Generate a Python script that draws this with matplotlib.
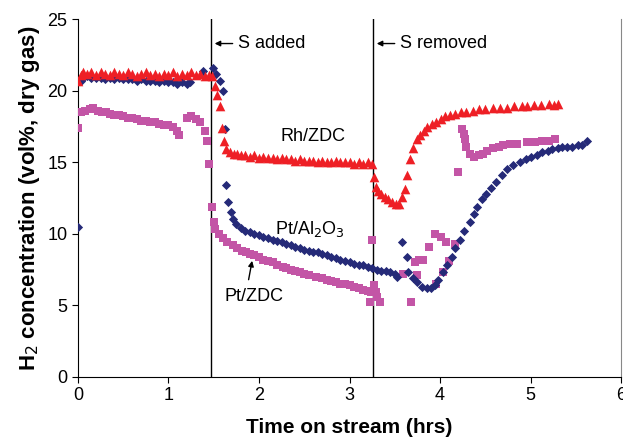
import matplotlib.pyplot as plt

plt.rcParams['font.family'] = ['Liberation Sans', 'DejaVu Sans']

# Rh/ZDC (red triangles)
rh_t = [0.00, 0.03, 0.06, 0.10, 0.15, 0.20, 0.25, 0.30, 0.35, 0.40, 0.45, 0.50, 0.55, 0.60,
        0.65, 0.70, 0.75, 0.80, 0.85, 0.90, 0.95, 1.00, 1.05, 1.10, 1.15, 1.20, 1.25, 1.30,
        1.35, 1.40, 1.45, 1.48, 1.51, 1.54, 1.57, 1.59, 1.61, 1.64, 1.68, 1.72, 1.76, 1.80,
        1.85, 1.90, 1.95, 2.00, 2.05, 2.10, 2.15, 2.20, 2.25, 2.30, 2.35, 2.40, 2.45, 2.50,
        2.55, 2.60, 2.65, 2.70, 2.75, 2.80, 2.85, 2.90, 2.95, 3.00, 3.05, 3.10, 3.15, 3.20,
        3.25, 3.27, 3.29, 3.32, 3.35, 3.39, 3.43, 3.47, 3.51, 3.55, 3.58, 3.61, 3.64, 3.67,
        3.70, 3.74, 3.78, 3.82, 3.86, 3.91, 3.96, 4.01, 4.06, 4.11, 4.17, 4.23, 4.29, 4.36,
        4.43, 4.50, 4.58, 4.66, 4.74, 4.82, 4.90, 4.96, 5.04, 5.12, 5.20, 5.26, 5.30]
rh_v = [20.7, 21.1, 21.3, 21.2, 21.3, 21.1, 21.3, 21.2, 21.1, 21.3, 21.2, 21.1, 21.3, 21.2,
        21.0, 21.2, 21.3, 21.1, 21.2, 21.0, 21.2, 21.1, 21.3, 21.0, 21.2, 21.1, 21.3, 21.1,
        21.2, 21.0, 21.1, 21.0, 20.3, 19.7, 18.9, 17.4, 16.5, 15.9, 15.7, 15.6, 15.6, 15.5,
        15.5, 15.4, 15.5, 15.3, 15.4, 15.3, 15.3, 15.2, 15.3, 15.2, 15.2, 15.1, 15.2, 15.1,
        15.1, 15.1, 15.0, 15.1, 15.0, 15.0, 15.1, 15.0, 15.0, 15.0, 14.9, 15.0, 14.9, 15.0,
        14.9, 14.0, 13.3, 13.0, 12.8, 12.6, 12.4, 12.2, 12.1, 12.1, 12.6, 13.1, 14.1, 15.2,
        16.0, 16.6, 16.9, 17.2, 17.5, 17.7, 17.8, 18.0, 18.2, 18.3, 18.4, 18.5, 18.5, 18.6,
        18.7, 18.7, 18.8, 18.8, 18.8, 18.9, 18.9, 18.9, 19.0, 19.0, 19.1, 19.0, 19.1]

# Pt/Al2O3 (navy diamonds)
al_t = [0.00, 0.03, 0.06, 0.10, 0.15, 0.20, 0.25, 0.30, 0.35, 0.40, 0.45, 0.50, 0.55, 0.60,
        0.65, 0.70, 0.75, 0.80, 0.85, 0.90, 0.95, 1.00, 1.05, 1.10, 1.15, 1.20, 1.24, 1.38,
        1.49, 1.53, 1.57, 1.60, 1.62, 1.64, 1.66, 1.69, 1.71, 1.75, 1.80, 1.85, 1.90, 1.95,
        2.00, 2.05, 2.10, 2.15, 2.20, 2.25, 2.30, 2.35, 2.40, 2.45, 2.50, 2.55, 2.60, 2.65,
        2.70, 2.75, 2.80, 2.85, 2.90, 2.95, 3.00, 3.05, 3.10, 3.15, 3.20, 3.25, 3.30, 3.35,
        3.40, 3.45, 3.50, 3.53, 3.58, 3.63, 3.65, 3.70, 3.74, 3.80, 3.86, 3.90, 3.94, 3.98,
        4.03, 4.08, 4.13, 4.17, 4.22, 4.27, 4.33, 4.37, 4.41, 4.46, 4.51, 4.56, 4.62, 4.68,
        4.74, 4.81, 4.88, 4.95, 5.01, 5.07, 5.13, 5.19, 5.24, 5.30, 5.35, 5.40, 5.46, 5.52,
        5.57, 5.62]
al_v = [10.5, 20.7, 20.9, 21.0, 20.9, 20.9, 20.9, 20.8, 20.9, 20.8, 20.9, 20.8, 20.8, 20.8,
        20.7, 20.8, 20.7, 20.7, 20.7, 20.6, 20.7, 20.6, 20.6, 20.5, 20.6, 20.5, 20.6, 21.4,
        21.6, 21.2, 20.7, 20.0, 17.3, 13.4, 12.2, 11.5, 11.0, 10.7, 10.4, 10.2, 10.1, 10.0,
        9.9, 9.8, 9.7, 9.6, 9.5, 9.4, 9.3, 9.2, 9.1, 9.0, 8.9, 8.8, 8.7, 8.7,
        8.6, 8.5, 8.4, 8.3, 8.2, 8.1, 8.0, 7.9, 7.8, 7.8, 7.7, 7.6, 7.5, 7.4,
        7.4, 7.3, 7.2, 7.0, 9.4, 8.4, 7.3, 6.9, 6.6, 6.3, 6.2, 6.2, 6.4, 6.8,
        7.3, 7.8, 8.4, 9.0, 9.6, 10.2, 10.8, 11.4, 11.9, 12.4, 12.8, 13.2, 13.6, 14.1,
        14.5, 14.8, 15.0, 15.2, 15.4, 15.5, 15.7, 15.8, 15.9, 16.0, 16.1, 16.1, 16.1, 16.2,
        16.2, 16.5]

# Pt/ZDC (magenta squares)
zdc_t = [0.00, 0.03, 0.08, 0.13, 0.17, 0.22, 0.27, 0.31, 0.35, 0.40, 0.45, 0.50, 0.55, 0.60,
         0.65, 0.70, 0.75, 0.80, 0.85, 0.90, 0.95, 1.00, 1.05, 1.09, 1.12, 1.20, 1.25, 1.30,
         1.35, 1.40, 1.43, 1.45, 1.48, 1.50, 1.52, 1.56, 1.60, 1.65, 1.71, 1.76, 1.81, 1.86,
         1.90, 1.95, 2.00, 2.05, 2.10, 2.15, 2.20, 2.26, 2.30, 2.35, 2.40, 2.45, 2.50, 2.55,
         2.63, 2.70, 2.75, 2.80, 2.85, 2.90, 2.95, 3.00, 3.05, 3.10, 3.15, 3.20, 3.24, 3.23,
         3.25, 3.27, 3.29, 3.30, 3.34, 3.59, 3.68, 3.72, 3.74, 3.77, 3.81, 3.88, 3.94, 4.01,
         4.07, 4.17, 3.96, 4.03, 4.10, 4.20, 4.24, 4.26, 4.28, 4.29, 4.33, 4.38, 4.43, 4.47,
         4.52, 4.58, 4.65, 4.70, 4.77, 4.85, 4.96, 5.05, 5.13, 5.20, 5.27]
zdc_v = [17.4, 18.5, 18.6, 18.7, 18.8, 18.6, 18.5, 18.5, 18.4, 18.3, 18.3, 18.2, 18.1, 18.1,
         18.0, 17.9, 17.9, 17.8, 17.8, 17.7, 17.6, 17.6, 17.5, 17.2, 16.9, 18.1, 18.2, 18.0,
         17.8, 17.2, 16.5, 14.9, 11.9, 10.8, 10.3, 10.0, 9.7, 9.4, 9.2, 9.0, 8.8, 8.7,
         8.6, 8.5, 8.4, 8.2, 8.1, 8.0, 7.8, 7.7, 7.6, 7.5, 7.4, 7.3, 7.2, 7.1,
         7.0, 6.9, 6.8, 6.7, 6.6, 6.5, 6.5, 6.4, 6.3, 6.2, 6.1, 6.0, 5.9, 5.2,
         9.6, 6.4, 5.9, 5.6, 5.2, 7.2, 5.2, 8.0, 7.1, 8.2, 8.2, 9.1, 10.0, 9.8,
         9.4, 9.3, 6.5, 7.3, 8.1, 14.3, 17.3, 17.0, 16.6, 16.1, 15.6, 15.4, 15.5, 15.6,
         15.8, 16.0, 16.1, 16.2, 16.3, 16.3, 16.4, 16.4, 16.5, 16.5, 16.6]

s_added = 1.47
s_removed = 3.26

fig = plt.figure(figsize=(6.23, 4.47), dpi=100)
ax = fig.add_axes([0.125, 0.157, 0.872, 0.8])

ax.scatter(zdc_t, zdc_v, marker='s', s=30, color='#C355A6', linewidths=0, zorder=3)
ax.scatter(al_t, al_v, marker='D', s=22, color='#252A78', linewidths=0, zorder=4)
ax.scatter(rh_t, rh_v, marker='^', s=48, color='#EE1F25', linewidths=0, zorder=5)

ax.axvline(s_added, color='black', lw=1, zorder=2)
ax.axvline(s_removed, color='black', lw=1, zorder=2)

ax.annotate('', xy=(s_added + 0.01, 23.3), xytext=(s_added + 0.27, 23.3),
            arrowprops=dict(arrowstyle='-|>', color='black', lw=1, mutation_scale=8))
ax.text(s_added + 0.30, 23.3, 'S added', fontsize=13, va='center', ha='left')
ax.annotate('', xy=(s_removed + 0.01, 23.3), xytext=(s_removed + 0.27, 23.3),
            arrowprops=dict(arrowstyle='-|>', color='black', lw=1, mutation_scale=8))
ax.text(s_removed + 0.30, 23.3, 'S removed', fontsize=13, va='center', ha='left')

ax.text(2.6, 16.8, 'Rh/ZDC', fontsize=13, ha='center', va='center')
ax.text(2.56, 10.3, 'Pt/Al$_2$O$_3$', fontsize=13, ha='center', va='center')
ax.text(1.95, 5.6, 'Pt/ZDC', fontsize=13, ha='center', va='center')
ax.annotate('', xy=(1.93, 8.3), xytext=(1.88, 6.6),
            arrowprops=dict(arrowstyle='-|>', color='black', lw=1, mutation_scale=8))

ax.set_xlim(0, 6)
ax.set_ylim(0, 25)
ax.set_xticks(range(0, 7))
ax.set_yticks(range(0, 26, 5))
ax.tick_params(labelsize=13, direction='out', length=4)
ax.spines['top'].set_visible(False)
ax.spines['right'].set_color('#888888')

ax.set_xlabel('Time on stream (hrs)', fontsize=15, fontweight='bold', labelpad=10)
ax.set_ylabel('H$_2$ concentration (vol%, dry gas)', fontsize=16, fontweight='bold', labelpad=4)

fig.savefig('out.png', dpi=100)
